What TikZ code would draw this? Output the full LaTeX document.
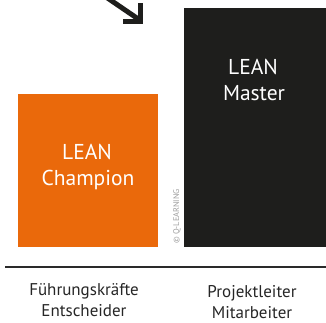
\documentclass[tikz,border=0pt]{standalone}
\usepackage{fontspec}
\setmainfont{PT Sans}
\definecolor{lorange}{HTML}{EA690B}
\definecolor{ldark}{HTML}{1E1E1C}
\definecolor{lline}{HTML}{2A2A2A}
\begin{document}
\begin{tikzpicture}[x=1pt,y=-1pt,
  boxtext/.style={text=white,font=\fontsize{21.5}{26}\selectfont,align=center,anchor=base,inner sep=0pt},
  labeltext/.style={text=black!85,font=\fontsize{17}{21}\selectfont,align=center,anchor=base,inner sep=0pt},
  arrowline/.style={draw=ldark,line width=5pt}]
\useasboundingbox (0,0) rectangle (326,322);
\fill[lorange] (18,94) rectangle (158,247);
\fill[ldark] (184,8) rectangle (326,247);
\node[boxtext] (champ1) at (87,159) {LEAN};
\node[boxtext] (champ2) at (88,185) {Champion};
\node[boxtext] (master1) at (253,74) {LEAN};
\node[boxtext] (master2) at (254,100) {Master};
\node[rotate=90,text=black!38,font=\fontsize{8.3}{9}\selectfont,anchor=base west,inner sep=0pt] (copy) at (179,244) {© Q-LEARNING};
\draw[lline,line width=2.3pt] (5,267.3) -- (326,267.3);
\node[labeltext] (l1a) at (84,295) {Führungskräfte};
\node[labeltext] (l1b) at (84,316) {Entscheider};
\node[labeltext] (l2a) at (252,297.5) {Projektleiter};
\node[labeltext] (l2b) at (252,318.5) {Mitarbeiter};
\coordinate (as) at (106,-3);
\coordinate (ae) at (139,19.5);
\coordinate (h1) at (123,21.5);
\coordinate (hc) at (140.5,21.5);
\coordinate (h2) at (140.5,3);
\draw[arrowline] (as) -- (ae);
\draw[arrowline,miter limit=10] (h1) -- (hc) -- (h2);
\end{tikzpicture}
\end{document}
